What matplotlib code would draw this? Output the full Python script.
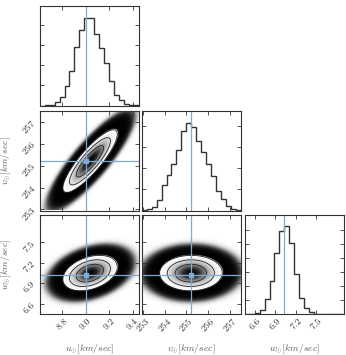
import numpy as np
import matplotlib
matplotlib.use("Agg")
import matplotlib.pyplot as plt

plt.rcParams['font.family'] = 'serif'
plt.rcParams['font.serif'] = ['cmr10', 'DejaVu Serif']
plt.rcParams['mathtext.fontset'] = 'cm'
plt.rcParams['axes.formatter.use_mathtext'] = True

# ---- data ----
labels = [r"$u_{\odot}[km/sec]$", r"$v_{\odot}[km/sec]$", r"$w_{\odot}[km/sec]$"]
ranges = [(8.605, 9.455), (252.95, 257.5), (6.45, 7.905)]
truths = [9.0, 255.2, 7.02]
means = [9.035, 255.2, 7.05]
sigmas = [0.117, 0.72, 0.13]
corr_uv = 0.86
corr_uw = 0.35
corr_vw = 0.02
hist_u = [0.0, 0.004, 0.01, 0.04, 0.10, 0.22, 0.39, 0.67, 0.86, 1.0,
          1.0, 0.81, 0.65, 0.48, 0.28, 0.12, 0.06, 0.02, 0.01, 0.004]
hist_v = [0.005, 0.015, 0.04, 0.12, 0.29, 0.40, 0.53, 0.69, 0.91, 1.0,
          0.95, 0.79, 0.67, 0.53, 0.39, 0.22, 0.13, 0.05, 0.02, 0.005]
hist_w = [0.0, 0.0, 0.01, 0.05, 0.17, 0.38, 0.70, 0.95, 1.0, 0.81,
          0.46, 0.19, 0.07, 0.02, 0.005, 0.0, 0.0, 0.0, 0.0, 0.0]
hists = [hist_u, hist_v, hist_w]
ticks = [[8.8, 9.0, 9.2, 9.4], [253, 254, 255, 256, 257], [6.6, 6.9, 7.2, 7.5]]
tick_labels = [["8.8", "9.0", "9.2", "9.4"], ["253", "254", "255", "256", "257"],
               ["6.6", "6.9", "7.2", "7.5"]]
hist_ytick_step = [0.23, 0.241, 0.16]
sigma_levels = [0.5, 1.0, 1.5, 2.0]
cloud_edge = 3.25

corr = np.array([[1.0, corr_uv, corr_uw],
                 [corr_uv, 1.0, corr_vw],
                 [corr_uw, corr_vw, 1.0]])

W, H = 346, 355
fig = plt.figure(figsize=(W / 100, H / 100), dpi=100)
col_left = [39.7, 141.7, 244.7]
row_top = [6.0, 111.0, 214.7]
aw, ah = 99.3, 99.5
truth_color = "#7fa9d6"
edge = "#333333"

def make_ax(i, j):
    l = col_left[j] / W
    b = 1 - (row_top[i] + ah) / H
    ax = fig.add_axes([l, b, aw / W, ah / H])
    for s in ax.spines.values():
        s.set_color(edge)
        s.set_linewidth(0.8)
    ax.tick_params(direction='in', length=3, width=0.6, top=True, right=True,
                   labelsize=7, colors=edge, pad=2)
    return ax

for i in range(3):
    for j in range(i + 1):
        ax = make_ax(i, j)
        if i == j:
            edges = np.linspace(ranges[i][0], ranges[i][1], len(hists[i]) + 1)
            ax.stairs(hists[i], edges, color=edge, lw=1.0)
            ax.axvline(truths[i], color=truth_color, lw=0.9)
            ax.set_xlim(*ranges[i])
            ax.set_ylim(0, 1.1 * max(hists[i]) * 1.03)
            ax.set_yticks(np.arange(0, 1.1, hist_ytick_step[i]))
            ax.set_yticklabels([])
        else:
            x0, x1 = ranges[j]
            y0, y1 = ranges[i]
            xs = np.linspace(x0, x1, 400)
            ys = np.linspace(y0, y1, 400)
            X, Y = np.meshgrid(xs, ys)
            dx = (X - means[j]) / sigmas[j]
            dy = (Y - means[i]) / sigmas[i]
            rho = corr[i, j]
            r2 = (dx ** 2 - 2 * rho * dx * dy + dy ** 2) / (1 - rho ** 2)
            r = np.sqrt(r2)
            v = np.exp(-r2 / 2)
            alpha_pts = 1.0 / (1.0 + np.exp((r - cloud_edge) / 0.16))
            rgba = np.zeros(X.shape + (4,))
            ro = sigma_levels[-1]
            vo = np.exp(-ro ** 2 / 2)
            inside = r < ro
            g = 1 - np.clip((v - vo) / (1 - vo), 0, 1) ** 1.5
            for k in range(3):
                rgba[..., k] = np.where(inside, g, 0.0)
            rgba[..., 3] = np.where(inside, 1.0, alpha_pts)
            ax.imshow(rgba, extent=[x0, x1, y0, y1], origin='lower',
                      aspect='auto', interpolation='bilinear', zorder=0)
            ax.contour(X, Y, r, levels=sigma_levels, colors='#222222',
                       linewidths=0.6, zorder=1)
            ax.axvline(truths[j], color=truth_color, lw=0.9, zorder=2)
            ax.axhline(truths[i], color=truth_color, lw=0.9, zorder=2)
            ax.plot([truths[j]], [truths[i]], 's', color=truth_color, ms=3, zorder=3)
            ax.set_xlim(x0, x1)
            ax.set_ylim(y0, y1)
            ax.set_yticks(ticks[i])
            if j == 0:
                ax.set_yticklabels(tick_labels[i], rotation=45)
                ax.set_ylabel(labels[i], fontsize=7, color='#555555')
                ax.yaxis.set_label_coords(-0.27, 0.5)
            else:
                ax.set_yticklabels([])
        ax.set_xticks(ticks[j])
        if i == 2:
            ax.set_xticklabels(tick_labels[j], rotation=45)
            ax.set_xlabel(labels[j], fontsize=7, color='#555555')
            ax.xaxis.set_label_coords(0.5, -0.29)
        else:
            ax.set_xticklabels([])

fig.savefig("out.png", dpi=100)
